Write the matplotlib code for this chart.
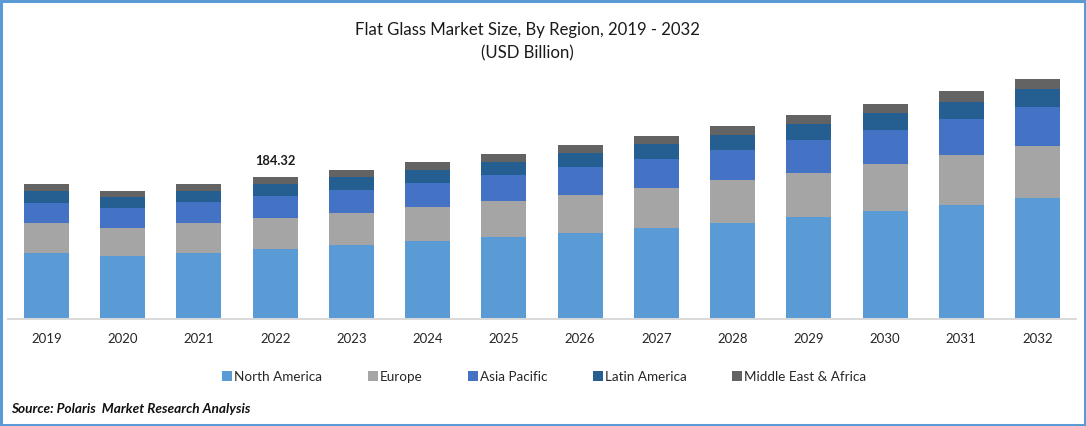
import matplotlib
matplotlib.use("Agg")
import matplotlib.pyplot as plt
from matplotlib.patches import Rectangle
import numpy as np

years = [str(y) for y in range(2019, 2033)]
north_america = [85.7, 81.8, 85.7, 90.82, 96.1, 101.2, 106.4, 111.6, 118.1, 124.6, 132.4, 140.2, 148.0, 157.1]
europe = [38.9, 36.3, 38.9, 40.2, 41.5, 44.1, 46.7, 49.3, 51.9, 55.8, 57.1, 61.0, 64.9, 67.5]
asia_pacific = [26.0, 26.0, 27.3, 28.6, 29.9, 31.2, 33.7, 36.3, 37.6, 38.9, 42.8, 44.1, 46.7, 50.6]
latin_america = [15.6, 14.3, 14.3, 15.6, 16.9, 16.9, 16.9, 18.2, 19.5, 19.5, 20.8, 22.1, 22.1, 23.4]
middle_east = [9.1, 7.8, 9.1, 9.1, 9.1, 10.4, 10.4, 10.4, 10.4, 11.7, 11.7, 11.7, 14.3, 13.0]
series_names = ["North America", "Europe", "Asia Pacific", "Latin America", "Middle East & Africa"]
series_values = [north_america, europe, asia_pacific, latin_america, middle_east]
colors = ["#5B9BD5", "#A5A5A5", "#4472C4", "#255E91", "#636363"]
annotated_year = "2022"
annotated_text = "184.32"

W, H = 1086, 426
plt.rcParams["font.family"] = ["Lato", "DejaVu Sans"]
fig = plt.figure(figsize=(W / 100, H / 100), dpi=100, facecolor="white")

ax = fig.add_axes([8 / W, (H - 319) / H, (1076 - 8) / W, 300 / H])
x = np.arange(len(years))
bottom = np.zeros(len(years))
for name, vals, c in zip(series_names, series_values, colors):
    ax.bar(x, vals, width=0.59, bottom=bottom, color=c, label=name, linewidth=0)
    bottom += np.array(vals)

ax.set_xlim(-0.505, 13.505)
ax.set_ylim(0, 300 * 1.298)
ax.set_yticks([])
ax.set_xticks(x, years)
ax.tick_params(axis="x", length=0, pad=10, labelsize=9.5, labelcolor="#262626")
for s in ["top", "left", "right"]:
    ax.spines[s].set_visible(False)
ax.spines["bottom"].set_color("#D9D9D9")
ax.spines["bottom"].set_linewidth(1.4)

i = years.index(annotated_year)
ax.annotate(annotated_text, (x[i], bottom[i]), xytext=(0, 7), textcoords="offset points",
            ha="center", va="bottom", fontsize=9.3, fontweight="bold", color="#1a1a1a")

fig.text(527 / W, 1 - 30 / H, "Flat Glass Market Size, By Region, 2019 - 2032", ha="center", va="center",
         fontsize=12.1, color="#1a1a1a")
fig.text(527 / W, 1 - 53 / H, "(USD Billion)", ha="center", va="center", fontsize=12.1, color="#1a1a1a")

leg = fig.legend(loc="center", bbox_to_anchor=(544 / W, 1 - 377 / H), ncol=5, frameon=False,
                 fontsize=9.7, handlelength=0.75, handleheight=0.75, handletextpad=0.12,
                 columnspacing=3.4, labelcolor="#262626", borderpad=0)

fig.text(11 / W, 1 - 409 / H, "Source: Polaris  Market Research Analysis", ha="left", va="center",
         fontsize=9.85, fontweight="bold", fontstyle="italic", color="#111111")

fig.add_artist(Rectangle((1 / W, 1 / H), (W - 2) / W, (H - 2) / H, transform=fig.transFigure,
                         fill=False, edgecolor="#5B9BD5", linewidth=2.2))

fig.savefig("out.png", dpi=100, facecolor="white")
